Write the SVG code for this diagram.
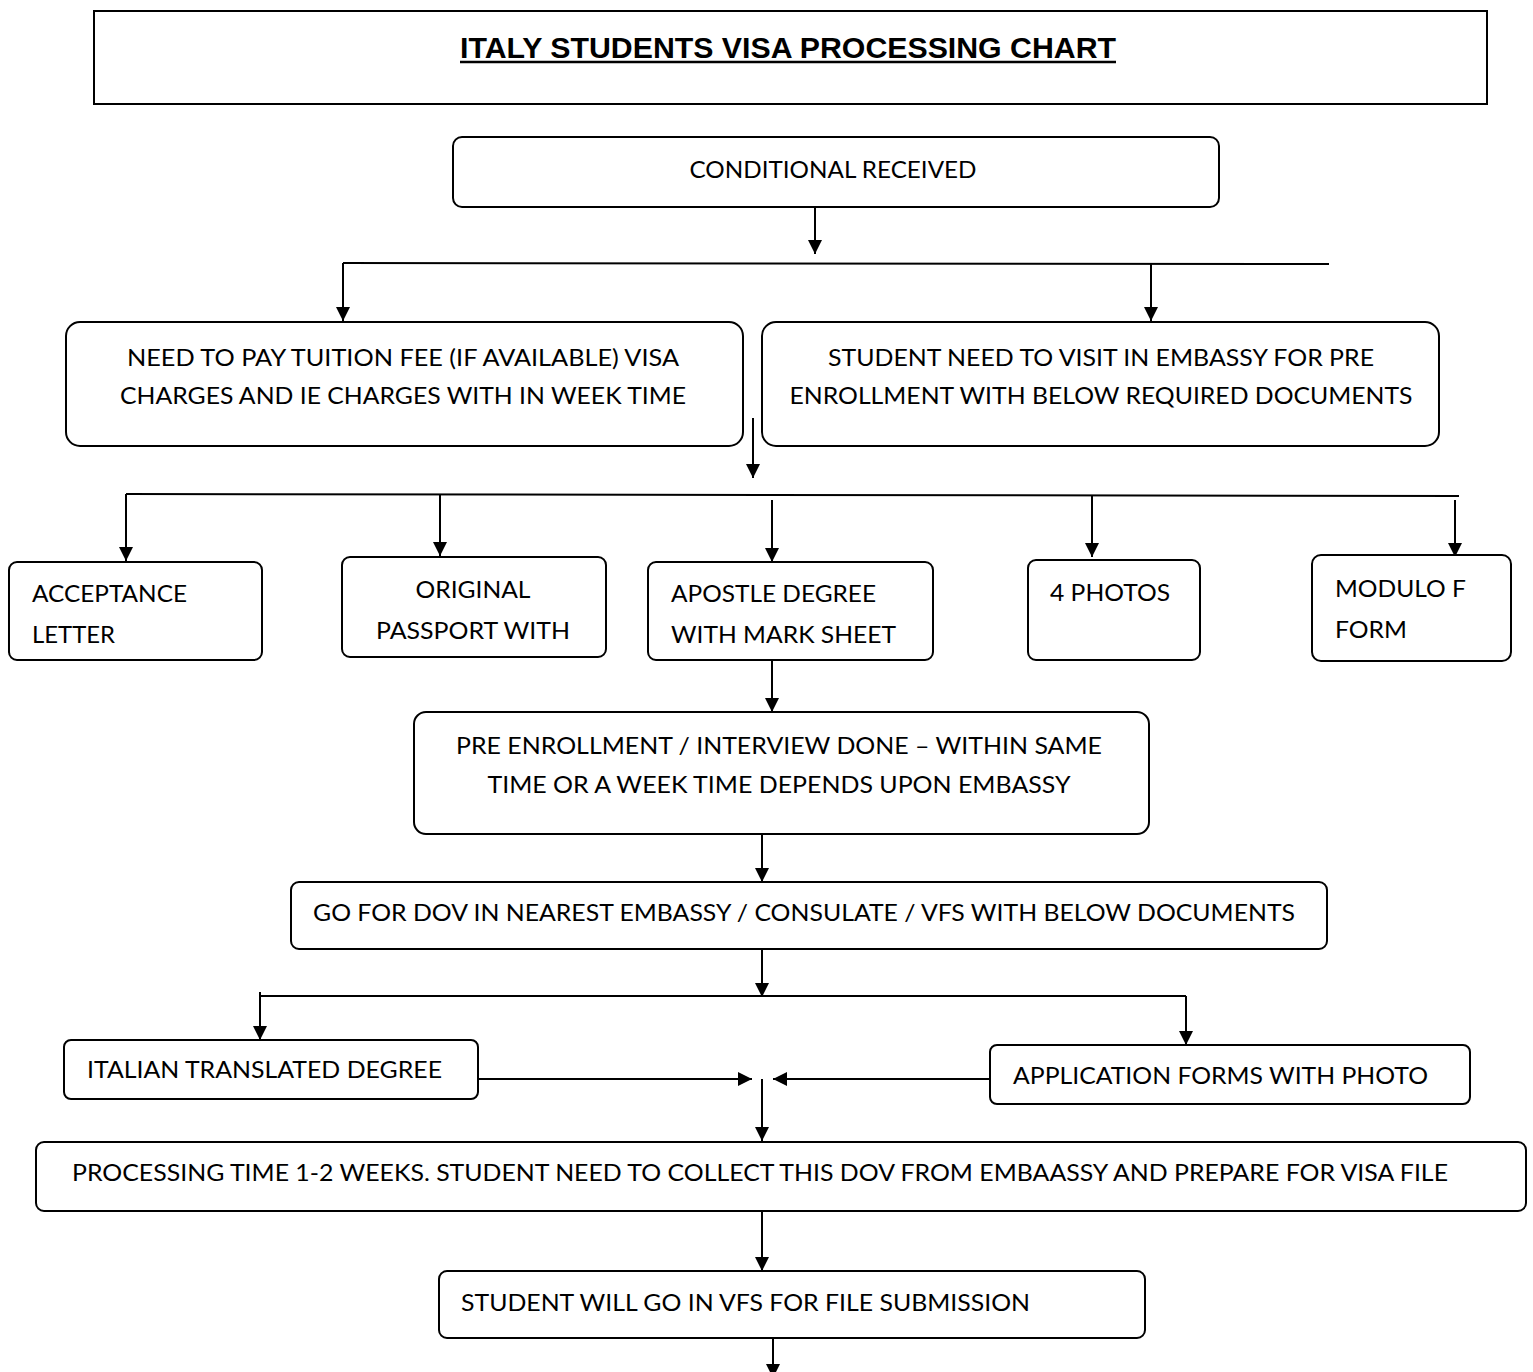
<svg xmlns="http://www.w3.org/2000/svg" width="1533" height="1372" viewBox="0 0 1533 1372">
<defs>
<marker id="ah" markerUnits="userSpaceOnUse" markerWidth="14" markerHeight="18" viewBox="0 0 14 18" refX="14" refY="7" orient="auto">
<path d="M0,0 L14,7 L0,14 Z" fill="#000"/>
</marker>
<style>
.box{fill:#fff;stroke:#000;stroke-width:2}
.t{font-family:Lato,"Open Sans","Noto Sans",sans-serif;font-size:23px;fill:#000}
.c{text-anchor:middle}
.ln{stroke:#000;stroke-width:2;fill:none}
.ar{stroke:#000;stroke-width:2;fill:none;marker-end:url(#ah)}
.title{font-family:"Liberation Sans",Arial,sans-serif;font-weight:bold;font-size:29px;fill:#000}
</style>
</defs>
<rect width="1533" height="1372" fill="#fff"/>

<g id="title">
<rect x="94" y="11" width="1393" height="93" fill="#fff" stroke="#000" stroke-width="2"/>
<text class="title" x="460" y="58" textLength="656" lengthAdjust="spacingAndGlyphs">ITALY STUDENTS VISA PROCESSING CHART</text>
<line x1="460" y1="62" x2="1116" y2="62" stroke="#000" stroke-width="2.5"/>
</g>

<g id="connectors">
<line class="ar" x1="815" y1="207" x2="815" y2="254"/>
<line class="ln" x1="343" y1="263" x2="1329" y2="264"/>
<line class="ar" x1="343" y1="263" x2="343" y2="321"/>
<line class="ar" x1="1151" y1="264" x2="1151" y2="321"/>
<line class="ar" x1="753" y1="418" x2="753" y2="478"/>
<line class="ln" x1="126" y1="494" x2="1459" y2="496"/>
<line class="ar" x1="126" y1="494" x2="126" y2="561"/>
<line class="ar" x1="440" y1="494" x2="440" y2="556"/>
<line class="ar" x1="772" y1="500" x2="772" y2="562"/>
<line class="ar" x1="1092" y1="495" x2="1092" y2="557"/>
<line class="ar" x1="1455" y1="500" x2="1455" y2="557"/>
<line class="ar" x1="772" y1="660" x2="772" y2="712"/>
<line class="ar" x1="762" y1="834" x2="762" y2="882"/>
<line class="ar" x1="762" y1="949" x2="762" y2="997"/>
<line class="ln" x1="260" y1="996" x2="1186" y2="996"/>
<line class="ar" x1="260" y1="992" x2="260" y2="1040"/>
<line class="ar" x1="1186" y1="996" x2="1186" y2="1045"/>
<line class="ar" x1="478" y1="1079" x2="752" y2="1079"/>
<line class="ar" x1="990" y1="1079" x2="773" y2="1079"/>
<line class="ar" x1="762" y1="1079" x2="762" y2="1141"/>
<line class="ar" x1="762" y1="1211" x2="762" y2="1271"/>
<line class="ar" x1="773" y1="1338" x2="773" y2="1378"/>
</g>

<g id="conditional">
<rect class="box" x="453" y="137" width="766" height="70" rx="9"/>
<text class="t c" x="833" y="178" textLength="287" lengthAdjust="spacingAndGlyphs">CONDITIONAL RECEIVED</text>
</g>

<g id="pay-fee">
<rect class="box" x="66" y="322" width="677" height="124" rx="14"/>
<text class="t c" x="403" y="366" textLength="552" lengthAdjust="spacingAndGlyphs">NEED TO PAY TUITION FEE (IF AVAILABLE) VISA</text>
<text class="t c" x="403" y="404" textLength="566" lengthAdjust="spacingAndGlyphs">CHARGES AND IE CHARGES WITH IN WEEK TIME</text>
</g>

<g id="visit-embassy">
<rect class="box" x="762" y="322" width="677" height="124" rx="14"/>
<text class="t c" x="1101" y="366" textLength="546" lengthAdjust="spacingAndGlyphs">STUDENT NEED TO VISIT IN EMBASSY FOR PRE</text>
<text class="t c" x="1101" y="404" textLength="623" lengthAdjust="spacingAndGlyphs">ENROLLMENT WITH BELOW REQUIRED DOCUMENTS</text>
</g>

<g id="acceptance">
<rect class="box" x="9" y="562" width="253" height="98" rx="8"/>
<text class="t" x="32" y="602" textLength="155" lengthAdjust="spacingAndGlyphs">ACCEPTANCE</text>
<text class="t" x="32" y="643" textLength="83" lengthAdjust="spacingAndGlyphs">LETTER</text>
</g>

<g id="passport">
<rect class="box" x="342" y="557" width="264" height="100" rx="8"/>
<text class="t c" x="473" y="598" textLength="115" lengthAdjust="spacingAndGlyphs">ORIGINAL</text>
<text class="t c" x="473" y="639" textLength="194" lengthAdjust="spacingAndGlyphs">PASSPORT WITH</text>
</g>

<g id="degree">
<rect class="box" x="648" y="562" width="285" height="98" rx="8"/>
<text class="t" x="671" y="602" textLength="205" lengthAdjust="spacingAndGlyphs">APOSTLE DEGREE</text>
<text class="t" x="671" y="643" textLength="225" lengthAdjust="spacingAndGlyphs">WITH MARK SHEET</text>
</g>

<g id="photos">
<rect class="box" x="1028" y="560" width="172" height="100" rx="8"/>
<text class="t" x="1050" y="601" textLength="120" lengthAdjust="spacingAndGlyphs">4 PHOTOS</text>
</g>

<g id="modulo">
<rect class="box" x="1312" y="555" width="199" height="106" rx="9"/>
<text class="t" x="1335" y="597" textLength="131" lengthAdjust="spacingAndGlyphs">MODULO F</text>
<text class="t" x="1335" y="638" textLength="72" lengthAdjust="spacingAndGlyphs">FORM</text>
</g>

<g id="pre-enrollment">
<rect class="box" x="414" y="712" width="735" height="122" rx="12"/>
<text class="t c" x="779" y="754" textLength="646" lengthAdjust="spacingAndGlyphs">PRE ENROLLMENT / INTERVIEW DONE – WITHIN SAME</text>
<text class="t c" x="779" y="793" textLength="583" lengthAdjust="spacingAndGlyphs">TIME OR A WEEK TIME DEPENDS UPON EMBASSY</text>
</g>

<g id="dov">
<rect class="box" x="291" y="882" width="1036" height="67" rx="8"/>
<text class="t" x="313" y="921" textLength="982" lengthAdjust="spacingAndGlyphs">GO FOR DOV IN NEAREST EMBASSY / CONSULATE / VFS WITH BELOW DOCUMENTS</text>
</g>

<g id="italian-degree">
<rect class="box" x="64" y="1040" width="414" height="59" rx="7"/>
<text class="t" x="87" y="1078" textLength="355" lengthAdjust="spacingAndGlyphs">ITALIAN TRANSLATED DEGREE</text>
</g>

<g id="application-forms">
<rect class="box" x="990" y="1045" width="480" height="59" rx="7"/>
<text class="t" x="1013" y="1084" textLength="415" lengthAdjust="spacingAndGlyphs">APPLICATION FORMS WITH PHOTO</text>
</g>

<g id="processing">
<rect class="box" x="36" y="1142" width="1490" height="69" rx="8"/>
<text class="t" x="72" y="1181" textLength="1376" lengthAdjust="spacingAndGlyphs">PROCESSING TIME 1-2 WEEKS. STUDENT NEED TO COLLECT THIS DOV FROM EMBAASSY AND PREPARE FOR VISA FILE</text>
</g>

<g id="vfs-submission">
<rect class="box" x="439" y="1271" width="706" height="67" rx="8"/>
<text class="t" x="461" y="1311" textLength="569" lengthAdjust="spacingAndGlyphs">STUDENT WILL GO IN VFS FOR FILE SUBMISSION</text>
</g>
</svg>
